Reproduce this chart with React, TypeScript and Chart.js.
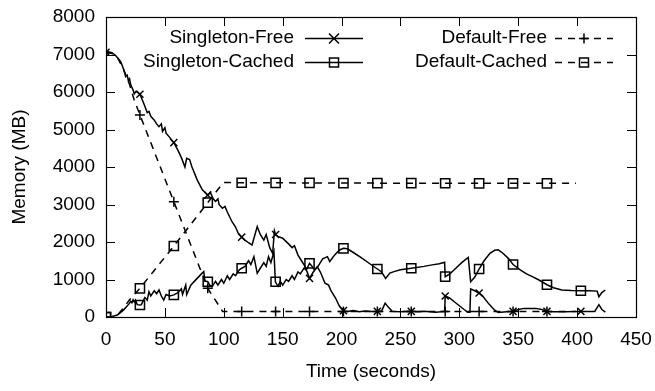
import React, { useEffect, useRef } from "react";
import { Chart, registerables } from "chart.js";

Chart.register(...registerables);

// ---- data (time in seconds, memory in MB) ----
const xTickValues = [0, 50, 100, 150, 200, 250, 300, 350, 400, 450];
const yTickValues = [0, 1000, 2000, 3000, 4000, 5000, 6000, 7000, 8000];
const markerEvery = 28.8;

const singletonFreeT = [0, 2, 5, 8, 12.5, 15, 16.7, 18, 19, 20, 21, 23, 24, 25.5, 28.8, 32, 35, 36.5, 38, 41, 43, 45, 47, 48, 50, 51, 53.5, 57.6, 61, 64, 67, 68.5, 71, 73, 77.5, 81.8, 86.4, 88.5, 91, 93, 95, 96, 98.8, 101, 103, 107, 110, 112, 115.2, 118, 121, 124, 128.4, 131, 134, 136, 139, 141.5, 143, 144, 146, 150, 155, 158, 160, 163, 166, 169, 172.8, 176, 179.4, 182, 186, 189, 191, 195, 198, 201.6, 205, 210, 215, 220, 225, 230.4, 234, 237, 240, 243, 250, 259.2, 265, 270, 280, 287.5, 288, 292, 296, 300, 304, 307, 309, 309.6, 313, 316.8, 320, 325, 330, 333, 340, 345.6, 350, 355, 365, 370, 374.4, 380, 390, 403.2, 410, 415, 418.5, 421, 424];
const singletonFreeV = [7060, 7070, 7050, 6980, 6810, 6600, 6410, 6450, 6300, 6350, 6190, 6050, 5950, 6020, 5940, 5700, 5450, 5480, 5350, 5250, 5150, 5075, 5150, 4950, 5050, 4900, 4810, 4650, 4450, 4250, 4000, 4230, 4200, 4000, 3650, 3390, 3250, 3330, 3150, 3080, 3150, 3000, 2900, 2950, 2800, 2540, 2400, 2250, 2130, 2050, 1980, 1920, 2410, 2200, 2050, 2200, 1850, 1700, 2300, 2200, 2150, 2100, 1950, 1850, 1900, 1650, 1500, 1350, 1030, 1200, 1340, 1200, 900, 850, 700, 500, 300, 170, 150, 170, 140, 160, 150, 150, 160, 370, 250, 150, 140, 150, 140, 150, 130, 150, 560, 500, 400, 300, 200, 130, 130, 750, 700, 640, 550, 350, 180, 120, 140, 150, 200, 230, 230, 200, 150, 140, 140, 150, 150, 150, 330, 200, 130];

const singletonCachedT = [0, 5, 9.6, 12, 15, 17, 19.5, 21, 22, 23, 24, 25, 26.5, 28.8, 30, 33, 35, 36.5, 38, 41, 43, 45, 47, 49, 51, 54, 57.6, 61, 64, 65, 67.7, 68.5, 72, 75, 78, 81, 83, 84, 86.4, 88, 90, 93, 95, 98, 100, 103, 105, 108, 110, 113, 115.2, 118, 121, 123, 125.6, 128.4, 131, 134, 136, 138, 140, 142.6, 143.8, 144, 146, 148, 150, 153, 155, 158, 160, 163, 165, 168, 170, 172.8, 175, 177, 180, 184, 188, 190, 194, 198, 201.6, 205, 210, 217.6, 224, 230.4, 234, 237.4, 241, 244.5, 250, 259.2, 270, 277, 283, 287.5, 288, 292, 297, 302, 307.6, 309.6, 313, 316.8, 321, 326, 330, 333, 337, 342, 345.6, 352, 357, 362, 368, 374.4, 380, 387, 395, 403.2, 410, 417, 418.5, 421, 424];
const singletonCachedV = [0, 10, 53, 110, 190, 260, 350, 420, 380, 460, 400, 455, 330, 320, 330, 520, 450, 675, 560, 700, 620, 720, 560, 450, 600, 560, 590, 650, 750, 600, 853, 600, 850, 950, 1050, 1150, 1210, 960, 940, 850, 810, 950, 850, 1000, 900, 1100, 1000, 1150, 1100, 1250, 1300, 1350, 1500, 1400, 1610, 1165, 1300, 1450, 1350, 1610, 1450, 1740, 940, 940, 820, 950, 850, 1000, 950, 1100, 1000, 1200, 1150, 1300, 1250, 1430, 1350, 1250, 1350, 1550, 1610, 1480, 1650, 1780, 1830, 1820, 1720, 1565, 1420, 1280, 1200, 1030, 1170, 1210, 1260, 1300, 1350, 1390, 1420, 1460, 1075, 1150, 1300, 1450, 1590, 940, 1060, 1280, 1500, 1700, 1780, 1790, 1700, 1550, 1400, 1250, 1150, 1075, 980, 860, 780, 720, 705, 700, 700, 690, 540, 650, 720];

const defaultFreeT = [0, 5, 10, 15, 20, 24, 28.8, 57.6, 86.4, 99, 115.2, 144, 172.8, 201.6, 230.4, 259.2, 288, 316.8, 345.6, 374.4, 399];
const defaultFreeV = [7050, 7030, 6900, 6600, 6200, 5780, 5390, 3075, 765, 150, 150, 150, 150, 150, 150, 150, 150, 150, 150, 150, 150];

const defaultCachedT = [0, 5, 10, 15, 20, 28.8, 57.6, 86.4, 95, 100, 115.2, 144, 172.8, 201.6, 230.4, 259.2, 288, 316.8, 345.6, 374.4, 399];
const defaultCachedV = [0, 10, 60, 250, 460, 765, 1893, 3048, 3400, 3590, 3580, 3578, 3575, 3572, 3570, 3568, 3566, 3565, 3565, 3565, 3565];

const FONT = "'Liberation Sans', Arial, Helvetica, sans-serif";
const FS = 19;
const DASH = [7, 6];

const isMarker = (t: number) => Math.abs(t / markerEvery - Math.round(t / markerEvery)) < 1e-6;

function series(label: string, T: number[], V: number[], dashed: boolean, style: string, radius: number) {
  return {
    label,
    data: T.map((t, i) => ({ x: t, y: V[i] })),
    borderColor: "#000",
    borderWidth: 1.5,
    borderDash: dashed ? DASH : [],
    pointStyle: style,
    pointRadius: (ctx: any) => (isMarker(T[ctx.dataIndex]) ? radius : 0),
    pointHoverRadius: 0,
    pointBorderColor: "#000",
    pointBackgroundColor: "rgba(0,0,0,0)",
    pointBorderWidth: 1.5,
    tension: 0,
    fill: false,
  };
}

function drawMarker(ctx: CanvasRenderingContext2D, style: string, x: number, y: number) {
  ctx.beginPath();
  if (style === "crossRot") {
    ctx.moveTo(x - 5, y - 5); ctx.lineTo(x + 5, y + 5);
    ctx.moveTo(x + 5, y - 5); ctx.lineTo(x - 5, y + 5);
  } else if (style === "cross") {
    ctx.moveTo(x - 5, y); ctx.lineTo(x + 5, y);
    ctx.moveTo(x, y - 5); ctx.lineTo(x, y + 5);
  } else {
    ctx.rect(x - 4.5, y - 4.5, 9, 9);
  }
  ctx.stroke();
}

const legendItems = [
  { label: "Singleton-Free", dashed: false, style: "crossRot", textRight: 294, x0: 305, x1: 363, y: 38 },
  { label: "Singleton-Cached", dashed: false, style: "rect", textRight: 294, x0: 305, x1: 363, y: 62 },
  { label: "Default-Free", dashed: true, style: "cross", textRight: 547, x0: 555, x1: 613, y: 38 },
  { label: "Default-Cached", dashed: true, style: "rect", textRight: 547, x0: 555, x1: 613, y: 62 },
];

const framePlugin = {
  id: "frameTicks",
  afterDraw(chart: any) {
    const { ctx, chartArea } = chart;
    const { left, right, top, bottom } = chartArea;
    const xs = chart.scales.x;
    const ys = chart.scales.y;
    const TL = 9;
    ctx.save();
    ctx.strokeStyle = "#000";
    ctx.lineWidth = 1;
    ctx.setLineDash([]);
    ctx.beginPath();
    for (const v of xTickValues) {
      const px = Math.round(xs.getPixelForValue(v)) + 0.5;
      ctx.moveTo(px, bottom); ctx.lineTo(px, bottom - TL);
      ctx.moveTo(px, top); ctx.lineTo(px, top + TL);
    }
    for (const v of yTickValues) {
      const py = Math.round(ys.getPixelForValue(v)) + 0.5;
      ctx.moveTo(left, py); ctx.lineTo(left + TL, py);
      ctx.moveTo(right, py); ctx.lineTo(right - TL, py);
    }
    ctx.stroke();
    ctx.lineWidth = 1.2;
    ctx.strokeRect(Math.round(left) + 0.5, Math.round(top) + 0.5, Math.round(right - left), Math.round(bottom - top));

    // legend
    ctx.font = `${FS}px ${FONT}`;
    ctx.fillStyle = "#000";
    ctx.textAlign = "right";
    ctx.textBaseline = "middle";
    for (const it of legendItems) {
      ctx.fillText(it.label, it.textRight, it.y);
      ctx.lineWidth = 1.5;
      ctx.setLineDash(it.dashed ? DASH : []);
      ctx.beginPath();
      ctx.moveTo(it.x0, it.y + 0.5);
      ctx.lineTo(it.x1, it.y + 0.5);
      ctx.stroke();
      ctx.setLineDash([]);
      drawMarker(ctx, it.style, (it.x0 + it.x1) / 2, it.y + 0.5);
    }
    ctx.restore();
  },
};

export default function App() {
  const ref = useRef<HTMLCanvasElement | null>(null);
  useEffect(() => {
    if (!ref.current) return;
    Chart.defaults.font.family = FONT;
    Chart.defaults.font.size = FS;
    Chart.defaults.color = "#000";
    const chart = new Chart(ref.current, {
      type: "line",
      data: {
        datasets: [
          series("Singleton-Free", singletonFreeT, singletonFreeV, false, "crossRot", 5),
          series("Singleton-Cached", singletonCachedT, singletonCachedV, false, "rect", 6.5),
          series("Default-Free", defaultFreeT, defaultFreeV, true, "cross", 5),
          series("Default-Cached", defaultCachedT, defaultCachedV, true, "rect", 6.5),
        ] as any,
      },
      options: {
        animation: false,
        responsive: false,
        events: [],
        layout: { padding: { left: 0, top: 17, right: 19, bottom: 0 } },
        plugins: { legend: { display: false }, tooltip: { enabled: false } },
        scales: {
          x: {
            type: "linear",
            min: 0,
            max: 450,
            afterBuildTicks: (s: any) => { s.ticks = xTickValues.map((v) => ({ value: v })); },
            ticks: { color: "#000", font: { size: FS }, padding: 11, maxRotation: 0, autoSkip: false, callback: (v: any) => String(v) },
            grid: { display: false, drawTicks: false },
            border: { display: false },
            title: { display: true, text: "Time (seconds)", color: "#000", font: { size: FS }, padding: { top: 0, bottom: 8 } },
            afterFit: (s: any) => { s.height = 74; s.paddingLeft = 0; s.paddingRight = 0; },
          },
          y: {
            type: "linear",
            min: 0,
            max: 8000,
            afterBuildTicks: (s: any) => { s.ticks = yTickValues.map((v) => ({ value: v })); },
            ticks: { color: "#000", font: { size: FS }, padding: 11, callback: (v: any) => String(v) },
            grid: { display: false, drawTicks: false },
            border: { display: false },
            title: { display: true, text: "Memory (MB)", color: "#000", font: { size: FS }, padding: { top: 8, bottom: 0 } },
            afterFit: (s: any) => { s.width = 106; s.paddingTop = 0; s.paddingBottom = 0; },
          },
        },
      } as any,
      plugins: [framePlugin],
    });
    return () => chart.destroy();
  }, []);
  return (
    <div style={{ position: "fixed", left: 0, top: 0, width: 655, height: 391, background: "#fff" }}>
      <canvas ref={ref} width={655} height={391} style={{ display: "block" }} />
    </div>
  );
}
